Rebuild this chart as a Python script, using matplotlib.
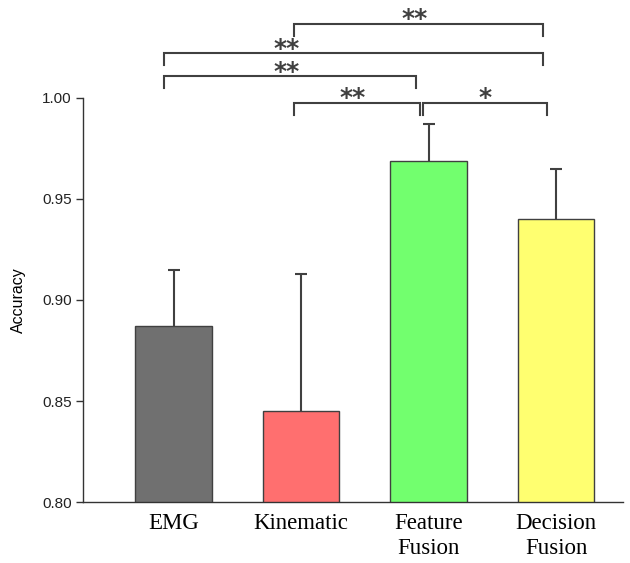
import numpy as np
import matplotlib.pyplot as plt

# data
categories = ["EMG", "Kinematic", "Feature\nFusion", "Decision\nFusion"]
accuracy = [0.887, 0.845, 0.969, 0.940]
err_up = [0.028, 0.068, 0.018, 0.025]
colors = ["#707070", "#ff6f6f", "#72ff6e", "#ffff70"]
yticks = [0.80, 0.85, 0.90, 0.95, 1.00]

# significance brackets: (x left, x right, height, label, label x)
brackets = [
    (0.945, 2.898, 1.0366, "**", 1.894),
    (-0.075, 2.898, 1.0222, "**", 0.890),
    (-0.075, 1.902, 1.0108, "**", 0.890),
    (0.945, 1.933, 0.9975, "**", 1.408),
    (1.957, 2.929, 0.9975, "*", 2.443),
]

fig = plt.figure(figsize=(6.3, 5.63), dpi=100)
ax = fig.add_axes([0.1317, 0.1083, 0.8573, 0.7177])

x = np.arange(len(categories))
ax.bar(x, accuracy, width=0.6, color=colors, edgecolor="#404040", linewidth=1.0, zorder=2)
eb = ax.errorbar(x, accuracy, yerr=[np.zeros(len(x)), err_up], fmt="none",
                 ecolor="#404040", elinewidth=1.5, capsize=4, capthick=1.5, zorder=1)
eb[1][0].set_visible(False)  # no cap at the bar top

ax.set_xlim(-0.71, 3.525)
ax.set_ylim(0.80, 1.00)
ax.set_yticks(yticks)
ax.set_yticklabels([f"{t:.2f}" for t in yticks], fontsize=11, family="Liberation Sans", color="#222222")
ax.set_xticks(x)
ax.set_xticklabels(categories, fontsize=16.5, family="Liberation Serif", linespacing=1.25)
ax.tick_params(axis="x", length=0, pad=8)
ax.tick_params(axis="y", length=5, width=1, color="#333333", pad=3)
ax.set_ylabel("Accuracy", fontsize=11.5, family="Liberation Sans", labelpad=12)

for s in ["top", "right"]:
    ax.spines[s].set_visible(False)
for s in ["left", "bottom"]:
    ax.spines[s].set_linewidth(1.0)
    ax.spines[s].set_color("#333333")

leg = 0.0057
for x0, x1, h, lab, lx in brackets:
    ax.plot([x0, x0, x1, x1], [h - leg, h, h, h - leg], color="#404040",
            lw=1.5, clip_on=False, solid_joinstyle="miter")
    ax.text(lx, h - 0.0012, lab, ha="center", va="baseline", fontsize=18,
            fontweight="bold", family="DejaVu Sans", color="#404040", clip_on=False)

fig.savefig("out.png", dpi=100)
